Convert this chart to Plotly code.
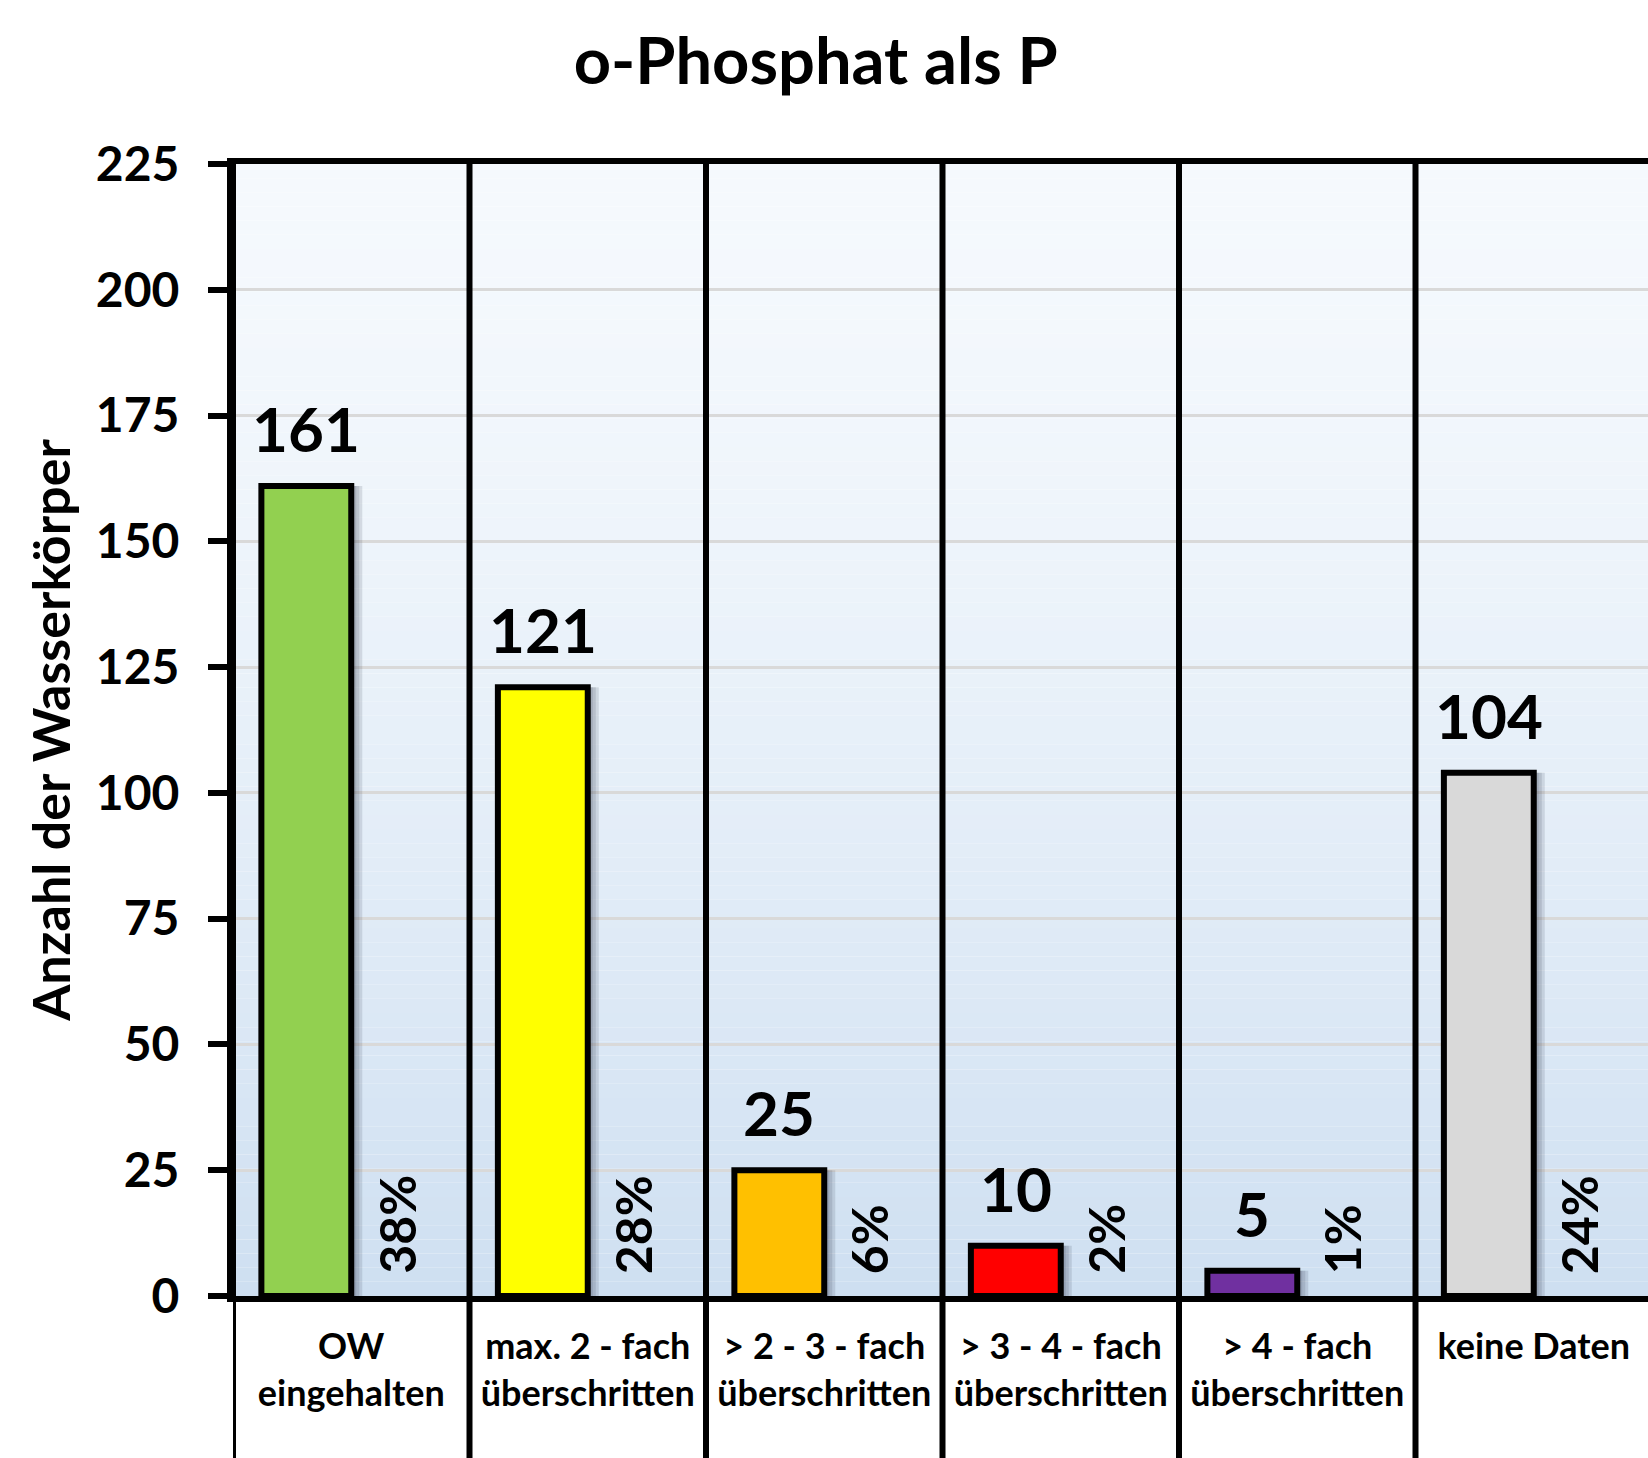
import plotly.graph_objects as go

# ---- data ----
categories = ["OW<br>eingehalten", "max. 2 - fach<br>überschritten", "> 2 - 3 - fach<br>überschritten",
              "> 3 - 4 - fach<br>überschritten", "> 4 - fach<br>überschritten", "keine Daten<br> "]
values = [161, 121, 25, 10, 5, 104]
percent_labels = ["38%", "28%", "6%", "2%", "1%", "24%"]
bar_colors = ["#92D050", "#FFFF00", "#FFC000", "#FF0000", "#7030A0", "#D9D9D9"]
y_ticks = [0, 25, 50, 75, 100, 125, 150, 175, 200, 225]

FONT = "Lato"
W, H = 1648, 1458
ML, MR, MT, MB = 233, 0, 164, 162
plot_h = H - MT - MB
plot_w = W - ML - MR
CAT_PX = 236.5
px_unit = 1.0 / CAT_PX  # one pixel in category units
x_max = -0.5 + plot_w / CAT_PX

BAR_W = 0.38

fig = go.Figure()
# soft drop shadow (three layered translucent bars to the right)
for d in [11, 8, 5]:
    fig.add_trace(go.Bar(
        x=categories, y=values, width=BAR_W, offset=-BAR_W + d * px_unit,
        marker=dict(color="rgba(50,60,80,0.14)", line=dict(width=0)),
        showlegend=False, hoverinfo="skip",
    ))
fig.add_trace(go.Bar(
    x=categories, y=values, width=BAR_W, offset=-BAR_W,
    marker=dict(color=bar_colors, line=dict(color="black", width=6)),
    showlegend=False, hoverinfo="x+y",
))

# value labels above bars
for i, v in enumerate(values):
    fig.add_annotation(x=i - BAR_W / 2, y=v, xref="x", yref="y", text=str(v),
                       showarrow=False, yanchor="bottom", yshift=19,
                       font=dict(family=FONT, size=62, color="black", weight="bold"))
# percentage labels, rotated
for i, p in enumerate(percent_labels):
    fig.add_annotation(x=i + BAR_W / 2, y=0, xref="x", yref="y", text=p,
                       showarrow=False, yanchor="bottom", yshift=20, textangle=-90,
                       font=dict(family=FONT, size=50, color="black", weight="bold"))

shapes = []
# background gradient
N = 80
top = (245, 249, 253)
bot = (206, 223, 241)
for k in range(N):
    t = (k + 0.5) / N  # 0 at top
    f = t ** 1.5
    c = tuple(round(top[j] + (bot[j] - top[j]) * f) for j in range(3))
    shapes.append(dict(type="rect", xref="paper", yref="paper", x0=0, x1=1,
                       y0=1 - (k + 1) / N, y1=1 - k / N, layer="below",
                       fillcolor="rgb(%d,%d,%d)" % c, line=dict(width=0)))
# category separators extending into label area
for i in range(len(categories)):
    shapes.append(dict(type="line", xref="x", yref="paper", x0=i - 0.5, x1=i - 0.5,
                       y0=-MB / plot_h, y1=1, layer="above",
                       line=dict(color="black", width=6)))

fig.update_layout(
    width=W, height=H,
    margin=dict(l=ML, r=MR, t=MT, b=MB, pad=0),
    paper_bgcolor="white", plot_bgcolor="rgba(0,0,0,0)",
    shapes=shapes,
    barmode="overlay",
    title=dict(text="o-Phosphat als P", x=0.495, xanchor="center", y=1 - 61 / H, yanchor="middle",
               font=dict(family=FONT, size=65, color="black", weight="bold")),
    xaxis=dict(type="category", categoryorder="array", categoryarray=categories,
               range=[-0.5, x_max], showline=True, linecolor="black", linewidth=6, mirror=True,
               ticks="", showgrid=False, ticklabelstandoff=14,
               tickfont=dict(family=FONT, size=36, color="black", weight="bold")),
    yaxis=dict(range=[0, 225], tickvals=y_ticks, ticks="outside", ticklen=19, tickwidth=6,
               tickcolor="black", showline=True, linecolor="black", linewidth=6,
               showgrid=True, gridcolor="#D9D9D9", gridwidth=3, zeroline=False,
               ticklabelstandoff=19,
               tickfont=dict(family=FONT, size=48, color="black", weight="bold"),
               title=dict(text="Anzahl der Wasserkörper", standoff=11,
                          font=dict(family=FONT, size=52, color="black", weight="bold"))),
)

fig.write_html("out.html", config={"displayModeBar": False},
               post_script="document.body.style.margin='0';document.body.style.overflow='hidden';")
